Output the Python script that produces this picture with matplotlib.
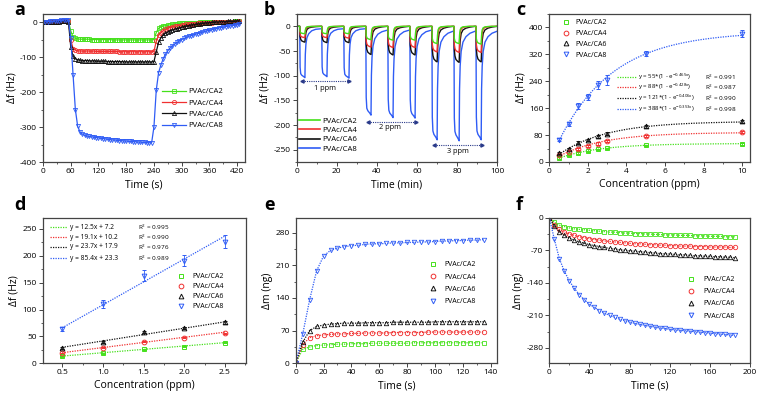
import numpy as np
import matplotlib
matplotlib.use('Agg')
import matplotlib.pyplot as plt
from matplotlib.ticker import MultipleLocator
from matplotlib.lines import Line2D

plt.rcParams['font.family'] = ['Open Sans', 'DejaVu Sans']
plt.rcParams['mathtext.default'] = 'regular'
plt.rcParams['axes.unicode_minus'] = False

G, R, K, B = '#44e01a', '#f03030', '#111111', '#2f5cf5'
labels = ['PVAc/CA2', 'PVAc/CA4', 'PVAc/CA6', 'PVAc/CA8']
colors = [G, R, K, B]
markers = ['s', 'o', '^', 'v']

# ---------------- panel a data (time step 5 s) ----------------
a_step = 5
a_ca2 = [0,0,1,1,1,2,2,2,3,3,3,2,
         -25,-43,-47,-48,-49,-49,
         -49,-49,-49,-50,-50,-50,-50,-50,-50,-50,-50,-50,-51,-51,-51,-51,-51,-51,-51,-51,
         -51,-51,-51,-51,-51,-51,-51,-51,-51,-51,
         -50,-30,-18,-14,-12,-10,-9,-8,-7,-6,-5,-4,-4,
         -3,-3,-3,-2,-2,-2,-2,-1,-1,-1,-1,0,0,0,0,0,1,1,1,1,1,1,2,2,2]
a_ca4 = [0,0,0,1,1,1,2,2,2,2,2,2,
         -50,-76,-80,-82,-83,-83,
         -83,-83,-83,-83,-83,-84,-84,-84,-84,-84,-84,-84,-84,-84,-84,-85,-85,-85,-85,-85,
         -85,-85,-85,-85,-85,-85,-85,-85,-85,-85,
         -84,-55,-38,-30,-25,-21,-18,-16,-14,-12,-11,-10,-9,
         -8,-7,-6,-6,-5,-5,-4,-4,-3,-3,-2,-2,-2,-1,-1,-1,0,0,0,0,1,1,1,1,2]
a_ca6 = [0,0,0,0,1,1,1,1,2,2,2,1,
         -70,-98,-105,-108,-109,-110,
         -110,-110,-111,-111,-111,-112,-112,-112,-112,-112,-113,-113,-113,-113,-113,-113,-113,-114,-114,-114,
         -114,-114,-114,-114,-114,-114,-114,-114,-114,-114,
         -113,-85,-58,-45,-37,-32,-28,-25,-23,-21,-19,-17,-15,
         -13,-12,-10,-9,-8,-7,-6,-5,-4,-3,-3,-2,-1,-1,0,0,1,1,1,2,2,2,2,3,3]
a_ca8 = [0,1,1,2,2,3,3,4,5,6,7,6,
         -45,-150,-250,-298,-314,-320,
         -324,-326,-327,-328,-329,-330,-331,-332,-333,-334,-335,-336,-337,-337,-338,-339,-339,-340,
         -340,-341,-341,-342,-342,-343,-343,-344,-344,-345,-345,-345,
         -300,-195,-145,-123,-105,-92,-82,-74,-68,-63,-58,-54,-50,
         -47,-44,-41,-39,-37,-35,-33,-31,-29,-27,-25,-24,-22,-20,-19,-17,-16,-15,-13,-12,-11,-10,-9,-8,-7]

# ---------------- panel b data (min) ----------------
b_time = [0.0,
          1.5, 1.7, 2.0, 2.5, 3.5, 4.1, 4.3, 4.6, 5.1, 6.0, 7.5, 9.5, 12.0,
          12.5, 12.7, 13.0, 13.5, 14.5, 15.1, 15.3, 15.6, 16.1, 17.0, 18.5, 20.5, 23.0,
          23.5, 23.7, 24.0, 24.5, 25.5, 26.1, 26.3, 26.6, 27.1, 28.0, 29.5, 31.5, 34.0,
          34.5, 34.7, 35.0, 35.5, 36.5, 37.1, 37.3, 37.6, 38.1, 39.0, 40.5, 42.5, 45.0,
          45.5, 45.7, 46.0, 46.5, 47.5, 48.1, 48.3, 48.6, 49.1, 50.0, 51.5, 53.5, 56.0,
          56.5, 56.7, 57.0, 57.5, 58.5, 59.1, 59.3, 59.6, 60.1, 61.0, 62.5, 64.5, 67.0,
          67.5, 67.7, 68.0, 68.5, 69.5, 70.1, 70.3, 70.6, 71.1, 72.0, 73.5, 75.5, 78.0,
          78.5, 78.7, 79.0, 79.5, 80.5, 81.1, 81.3, 81.6, 82.1, 83.0, 84.5, 86.5, 89.0,
          89.5, 89.7, 90.0, 90.5, 91.5, 92.1, 92.3, 92.6, 93.1, 94.0, 95.5, 97.5, 100.0]
b_ca2 = [0,
         0, -10.5, -12.8, -14, -14.7, -15, -7.5, -3, -1.2, -0.5, -0.2, 0, 0,
         0, -10.5, -12.8, -14, -14.7, -15, -7.5, -3, -1.2, -0.5, -0.2, 0, 0,
         0, -10.5, -12.8, -14, -14.7, -15, -7.5, -3, -1.2, -0.5, -0.2, 0, 0,
         0, -19, -23, -25, -26.5, -27, -13.5, -5.4, -2.2, -0.8, -0.3, 0, 0,
         0, -19.6, -23.8, -26, -27.4, -28, -14, -5.6, -2.2, -0.8, -0.3, 0, 0,
         0, -19.6, -23.8, -26, -27.4, -28, -14, -5.6, -2.2, -0.8, -0.3, 0, 0,
         0, -24.5, -29.8, -32.6, -34.3, -35, -17.5, -7, -2.8, -1, -0.4, 0, 0,
         0, -24.5, -29.8, -32.6, -34.3, -35, -17.5, -7, -2.8, -1, -0.4, 0, 0,
         0, -25, -30.6, -33.5, -35.3, -36, -18, -7.2, -2.9, -1.1, -0.4, 0, 0]
b_ca4 = [0,
         0, -16.1, -19.6, -21.4, -22.5, -23, -12.7, -5.8, -2.3, -0.9, -0.3, 0, 0,
         0, -16.1, -19.6, -21.4, -22.5, -23, -12.7, -5.8, -2.3, -0.9, -0.3, 0, 0,
         0, -16.8, -20.4, -22.3, -23.5, -24, -13.2, -6, -2.4, -1, -0.4, 0, 0,
         0, -29.4, -35.7, -39, -41.2, -42, -23.1, -10.5, -4.2, -1.7, -0.6, 0, 0,
         0, -30.1, -36.6, -40, -42.1, -43, -23.7, -10.8, -4.3, -1.7, -0.6, 0, 0,
         0, -30.1, -36.6, -40, -42.1, -43, -23.7, -10.8, -4.3, -1.7, -0.6, 0, 0,
         0, -36.4, -44.2, -48.4, -51, -52, -28.6, -13, -5.2, -2.1, -0.8, 0, 0,
         0, -37.1, -45, -49.3, -51.9, -53, -29.2, -13.3, -5.3, -2.1, -0.8, 0, 0,
         0, -37.1, -45, -49.3, -51.9, -53, -29.2, -13.3, -5.3, -2.1, -0.8, 0, 0]
b_ca6 = [0,
         0, -20.8, -26.2, -29.4, -31.4, -32, -22.4, -12.8, -6.4, -3.2, -1.6, -0.6, 0,
         0, -21.5, -27.1, -30.4, -32.3, -33, -23.1, -13.2, -6.6, -3.3, -1.7, -0.7, 0,
         0, -21.5, -27.1, -30.4, -32.3, -33, -23.1, -13.2, -6.6, -3.3, -1.7, -0.7, 0,
         0, -37, -46.7, -52.4, -55.9, -57, -39.9, -22.8, -11.4, -5.7, -2.9, -1.1, 0,
         0, -37.7, -47.6, -53.4, -56.8, -58, -40.6, -23.2, -11.6, -5.8, -2.9, -1.2, 0,
         0, -37.7, -47.6, -53.4, -56.8, -58, -40.6, -23.2, -11.6, -5.8, -2.9, -1.2, 0,
         0, -46.8, -59, -66.2, -70.6, -72, -50.4, -28.8, -14.4, -7.2, -3.6, -1.4, 0,
         0, -47.5, -59.9, -67.2, -71.5, -73, -51.1, -29.2, -14.6, -7.3, -3.7, -1.5, 0,
         0, -46.8, -59, -66.2, -70.6, -72, -50.4, -28.8, -14.4, -7.2, -3.6, -1.4, 0]
b_ca8 = [0,
         0, -83, -96, -99, -102, -104, -57, -36, -23, -15, -9, -6, -5,
         -5, -82, -94, -97, -100, -102, -56, -36, -22, -14, -9, -6, -5,
         -5, -84, -97, -100, -103, -105, -58, -37, -23, -15, -9, -6, -5,
         -5, -144, -166, -171, -176, -180, -99, -63, -40, -25, -16, -11, -8,
         -8, -148, -170, -176, -181, -185, -102, -65, -41, -26, -17, -11, -8,
         -8, -149, -171, -177, -182, -186, -102, -65, -41, -26, -17, -11, -8,
         -8, -184, -212, -219, -225, -230, -127, -81, -51, -32, -21, -14, -10,
         -10, -186, -213, -220, -227, -232, -128, -81, -51, -32, -21, -14, -10,
         -10, -184, -212, -219, -225, -230, -127, -81, -51, -32, -21, -14, -10]
b_arrows = [(2.5, 26.0, -110, '1 ppm', 14.0, -125),
            (35.5, 59.5, -193, '2 ppm', 46.5, -206),
            (68.5, 92.5, -241, '3 ppm', 80.5, -254)]

# ---------------- panel c data ----------------
c_conc = [0.5, 1, 1.5, 2, 2.5, 3, 5, 10]
c_ca2 = [12, 20, 27, 32, 38, 41, 50, 54]
c_ca4 = [20, 30, 40, 48, 55, 62, 77, 90]
c_ca6 = [28, 40, 57, 65, 76, 84, 106, 121]
c_ca8 = [66, 113, 167, 192, 228, 245, 322, 381]
c_err2 = [2, 2, 2, 2, 2, 2, 2, 2]
c_err4 = [2, 3, 3, 3, 3, 3, 3, 3]
c_err6 = [3, 3, 4, 4, 4, 4, 4, 4]
c_err8 = [5, 6, 8, 9, 12, 15, 8, 10]
c_amp = [55, 88, 121, 388]
c_rate = [0.465, 0.428, 0.406, 0.353]
c_r2 = ['0.991', '0.987', '0.990', '0.998']

# ---------------- panel d data ----------------
d_conc = [0.5, 1.0, 1.5, 2.0, 2.5]
d_ca2 = [13, 19, 26, 31, 38]
d_ca4 = [19, 29, 40, 48, 56]
d_ca6 = [28, 40, 58, 65, 76]
d_ca8 = [64, 110, 163, 191, 226]
d_err = [[1, 1, 1, 1, 1], [1, 1, 1, 1, 1], [2, 2, 2, 2, 2], [4, 8, 10, 10, 12]]
d_slope = [12.5, 19.1, 23.7, 85.4]
d_icpt = [7.2, 10.2, 17.9, 23.3]
d_r2 = ['0.995', '0.990', '0.976', '0.989']

# ---------------- panel e data (step 5 s) ----------------
e_step = 5
e_ca2 = [0, 30, 35, 38, 39, 40, 41, 41, 42, 42, 42, 43, 43, 43, 43, 43, 43, 44, 44, 44, 44, 44, 44, 44, 44, 44, 44, 44]
e_ca4 = [0, 40, 55, 59, 61, 62, 63, 63, 64, 64, 65, 65, 65, 65, 66, 66, 66, 66, 66, 67, 67, 67, 67, 67, 67, 67, 67, 67]
e_ca6 = [0, 45, 70, 79, 82, 84, 85, 86, 86, 86, 87, 87, 87, 87, 88, 88, 88, 88, 88, 88, 89, 89, 89, 89, 89, 89, 89, 89]
e_ca8 = [0, 62, 136, 198, 230, 242, 247, 250, 252, 253, 255, 256, 256, 257, 258, 258, 259, 259, 260, 260, 261, 262, 262, 263, 263, 264, 264, 265]

# ---------------- panel f data (step 5 s) ----------------
f_step = 5
f_ca2 = [0, -10, -16, -19, -22, -24, -25, -26, -27, -28, -29, -30, -31, -31, -32, -33, -33, -34, -34, -35,
         -35, -36, -36, -37, -37, -37, -38, -38, -38, -39, -39, -39, -40, -40, -40, -41, -41, -41]
f_ca4 = [0, -15, -25, -31, -35, -38, -41, -43, -45, -47, -48, -50, -51, -52, -53, -54, -55, -56, -56, -57,
         -58, -58, -59, -59, -60, -60, -61, -61, -61, -62, -62, -62, -63, -63, -63, -63, -64, -64]
f_ca6 = [0, -18, -30, -38, -44, -48, -52, -55, -58, -60, -62, -64, -66, -67, -69, -70, -71, -72, -73, -74,
         -75, -76, -77, -78, -78, -79, -80, -80, -81, -82, -82, -83, -83, -84, -84, -85, -85, -86]
f_ca8 = [0, -46, -88, -115, -136, -152, -166, -177, -186, -193, -200, -205, -210, -214, -218, -221, -224, -227, -229, -231,
         -233, -235, -237, -238, -240, -241, -242, -243, -244, -245, -246, -247, -248, -249, -250, -251, -252, -253]

# ---------------- figure ----------------
W, H = 760, 400
fig = plt.figure(figsize=(7.6, 4.0), dpi=100)

def pos(l, t, r, b):
    return [l / W, 1 - b / H, (r - l) / W, (b - t) / H]

TICK = 6
LAB = 7.5

def style(ax, xlim, ylim, xmaj, xmin, ymaj, ymin, xlabel, ylabel):
    ax.set_xlim(*xlim)
    ax.set_ylim(*ylim)
    ax.xaxis.set_major_locator(MultipleLocator(xmaj))
    ax.xaxis.set_minor_locator(MultipleLocator(xmin))
    ax.yaxis.set_major_locator(MultipleLocator(ymaj))
    ax.yaxis.set_minor_locator(MultipleLocator(ymin))
    for s in ax.spines.values():
        s.set_linewidth(0.9)
        s.set_color('#444444')
    ax.tick_params(which='major', direction='out', length=2.8, width=0.7, labelsize=TICK, pad=1.5,
                   color='#444444', top=False, right=False)
    ax.tick_params(which='minor', direction='out', length=1.6, width=0.6, color='#444444',
                   top=False, right=False)
    ax.set_xlabel(xlabel, fontsize=LAB, labelpad=3)
    ax.set_ylabel(ylabel, fontsize=LAB, labelpad=2)

axa = fig.add_axes(pos(43, 14, 245, 162))
axb = fig.add_axes(pos(296.7, 14, 497, 162))
axc = fig.add_axes(pos(549.3, 14, 750, 162))
axd = fig.add_axes(pos(42.7, 217.7, 246, 363.3))
axe = fig.add_axes(pos(295.7, 217.7, 497, 363.3))
axf = fig.add_axes(pos(549.3, 217.7, 750, 363.3))

# ---- a ----
for vals, c, m, lab in zip([a_ca2, a_ca4, a_ca6, a_ca8], colors, markers, labels):
    t = np.arange(len(vals)) * a_step
    axa.plot(t, vals, color=c, lw=0.9, marker=m, ms=3.0, mfc='none', mew=0.6, label=lab)
style(axa, (0, 437), (-400, 23), 60, 30, 100, 50, 'Time (s)', '\u0394f (Hz)')
axa.legend(loc='upper left', bbox_to_anchor=(0.59, 0.50), frameon=False, fontsize=5.6,
           handlelength=3.0, handletextpad=0.3, labelspacing=0.5, borderpad=0, borderaxespad=0)

# ---- b ----
series_b = [b_ca2, b_ca4, b_ca6, b_ca8]
for vals, c in list(zip(series_b, colors))[::-1]:
    axb.plot(b_time, vals, color=c, lw=1.0)
style(axb, (0, 100), (-275, 25), 20, 10, 50, 25, 'Time (min)', '\u0394f (Hz)')
hb = [Line2D([], [], color=c, lw=1.2) for c in colors]
axb.legend(hb, labels, loc='upper left', bbox_to_anchor=(0.01, 0.30), frameon=False, fontsize=5.6,
           handlelength=2.7, handletextpad=0.3, labelspacing=0.22, borderpad=0, borderaxespad=0)
AC = '#2a3a8a'
for x0, x1, y, txt, tx, ty in b_arrows:
    axb.plot([x0, x1], [y, y], ls=(0, (1, 1)), color=AC, lw=0.8)
    axb.plot([x0], [y], marker='<', ms=2.3, color=AC)
    axb.plot([x1], [y], marker='>', ms=2.3, color=AC)
    axb.text(tx, ty, txt, fontsize=5.3, ha='center', va='center')

# ---- c ----
xs = np.linspace(0.5, 10, 200)
for a_, k_, c in zip(c_amp, c_rate, colors):
    axc.plot(xs, a_ * (1 - np.exp(-k_ * xs)), ls=(0, (1, 1)), color=c, lw=0.9)
for vals, err, c, m, lab in zip([c_ca2, c_ca4, c_ca6, c_ca8], [c_err2, c_err4, c_err6, c_err8],
                                 colors, markers, labels):
    axc.errorbar(c_conc, vals, yerr=err, fmt=m, color=c, ms=3.4, mfc='none', mew=0.7,
                 elinewidth=0.6, capsize=1.5, capthick=0.6, label=lab, zorder=3)
style(axc, (0, 10.4), (0, 440), 2, 1, 80, 40, 'Concentration (ppm)', '\u0394f (Hz)')
hc = [Line2D([], [], ls='none', marker=m, color=c, ms=3.4, mfc='none', mew=0.7) for m, c in zip(markers, colors)]
axc.legend(hc, labels, loc='upper left', bbox_to_anchor=(0.066, 0.965), frameon=False, fontsize=5.0,
           handlelength=1.0, handletextpad=0.9, labelspacing=0.55, borderpad=0, borderaxespad=0)
cy = [0.574, 0.505, 0.432, 0.358]
for i, c in enumerate(colors):
    axc.plot([0.337, 0.437], [cy[i], cy[i]], transform=axc.transAxes, ls=(0, (1, 1)), color=c, lw=0.9)
    axc.text(0.44, cy[i], 'y = %d*(1 - e$^{-%.3fx}$)' % (c_amp[i], c_rate[i]), transform=axc.transAxes,
             fontsize=4.4, va='center')
    axc.text(0.775, cy[i], 'R$^{2}$ = ' + c_r2[i], transform=axc.transAxes, fontsize=4.6, va='center')

# ---- d ----
xd = np.array([0.5, 2.5])
for s_, b_, c in zip(d_slope, d_icpt, colors):
    axd.plot(xd, s_ * xd + b_, ls=(0, (1, 1)), color=c, lw=0.9)
for vals, err, c, m, lab in zip([d_ca2, d_ca4, d_ca6, d_ca8], d_err, colors, markers, labels):
    axd.errorbar(d_conc, vals, yerr=err, fmt=m, color=c, ms=3.4, mfc='none', mew=0.7,
                 elinewidth=0.6, capsize=1.5, capthick=0.6, zorder=3)
style(axd, (0.26, 2.76), (0, 271), 0.5, 0.25, 50, 25, 'Concentration (ppm)', '\u0394f (Hz)')
axd.xaxis.set_major_formatter(matplotlib.ticker.FormatStrFormatter('%.1f'))
axd.legend(hc, labels, loc='upper left', bbox_to_anchor=(0.663, 0.62), frameon=False, fontsize=5.0,
           handlelength=1.0, handletextpad=1.2, labelspacing=0.45, borderpad=0, borderaxespad=0)
dy = [0.936, 0.867, 0.799, 0.723]
for i, c in enumerate(colors):
    axd.plot([0.036, 0.12], [dy[i], dy[i]], transform=axd.transAxes, ls=(0, (1, 1)), color=c, lw=0.9)
    axd.text(0.134, dy[i], 'y = %.1fx + %.1f' % (d_slope[i], d_icpt[i]), transform=axd.transAxes,
             fontsize=4.8, va='center')
    axd.text(0.469, dy[i], 'R$^{2}$ = ' + d_r2[i], transform=axd.transAxes, fontsize=4.6, va='center')

# ---- e ----
for vals, c, m in zip([e_ca2, e_ca4, e_ca6, e_ca8], colors, markers):
    t = np.arange(len(vals)) * e_step
    axe.plot(t, vals, ls=(0, (1, 1)), color=c, lw=0.9)
    axe.plot(t, vals, ls='none', marker=m, color=c, ms=3.2, mfc='none', mew=0.6)
style(axe, (0, 144.5), (0, 312), 20, 10, 70, 35, 'Time (s)', '\u0394m (ng)')
axe.legend(hc, labels, loc='upper left', bbox_to_anchor=(0.665, 0.70), frameon=False, fontsize=5.0,
           handlelength=1.0, handletextpad=1.2, labelspacing=0.75, borderpad=0, borderaxespad=0)

# ---- f ----
for vals, c, m in zip([f_ca2, f_ca4, f_ca6, f_ca8], colors, markers):
    t = np.arange(len(vals)) * f_step
    axf.plot(t, vals, ls=(0, (1, 1)), color=c, lw=0.9)
    axf.plot(t, vals, ls='none', marker=m, color=c, ms=3.2, mfc='none', mew=0.6)
style(axf, (0, 200), (-313, 0), 40, 20, 70, 35, 'Time (s)', '\u0394m (ng)')
axf.legend(hc, labels, loc='upper left', bbox_to_anchor=(0.691, 0.60), frameon=False, fontsize=5.0,
           handlelength=1.0, handletextpad=1.2, labelspacing=0.75, borderpad=0, borderaxespad=0)

# panel letters
for ch, x, y in [('a', 14, 15), ('b', 264, 15), ('c', 516, 15),
                 ('d', 14, 210), ('e', 264, 210), ('f', 516, 210)]:
    fig.text(x / W, 1 - y / H, ch, fontsize=13, fontweight='bold', va='baseline', ha='left')

fig.savefig('out.png', dpi=100)
